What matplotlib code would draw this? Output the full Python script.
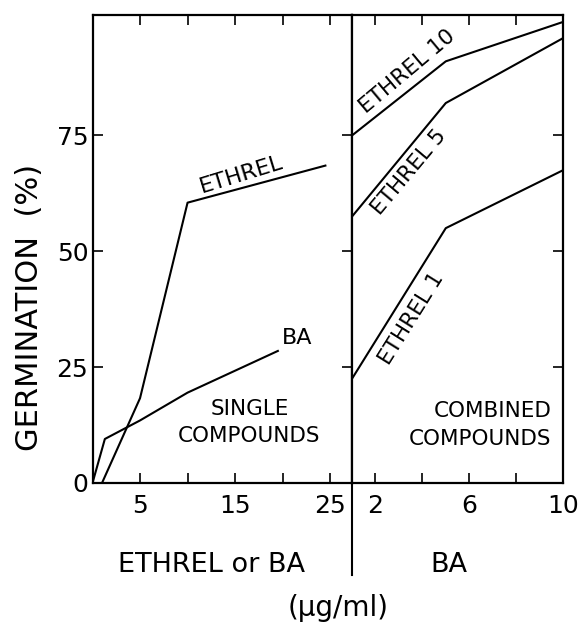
import matplotlib.pyplot as plt
from matplotlib.lines import Line2D

plt.rcParams['font.family'] = ['DejaVu Sans']

# single compounds (ug/ml)
ethrel_x = [1, 5, 10, 24.5]
ethrel_y = [0, 18.3, 60.5, 68.5]
ba_x = [0, 1.3, 5, 10, 19.5]
ba_y = [0, 9.5, 13.5, 19.5, 28.5]

# combined compounds: BA (ug/ml) with ethrel 1, 5, 10
ba_comb_x = [1, 5, 10]
ethrel1_y = [22.5, 55, 67.5]
ethrel5_y = [57.5, 82, 96]
ethrel10_y = [75, 91, 99.5]

left_ticks = [5, 10, 15, 20, 25]
left_labels = ['5', '', '15', '', '25']
right_ticks = [2, 4, 6, 8, 10]
right_labels = ['2', '', '6', '', '10']
y_ticks = [0, 25, 50, 75]

W, H = 579, 625
fig = plt.figure(figsize=(W / 100, H / 100), dpi=100)

# panel boxes in pixels -> figure fractions
x0, xm, x1 = 92.5, 352, 563
ytop, ybot = 15, 483
ax1 = fig.add_axes([x0 / W, 1 - ybot / H, (xm - x0) / W, (ybot - ytop) / H])
ax2 = fig.add_axes([xm / W, 1 - ybot / H, (x1 - xm) / W, (ybot - ytop) / H])

lw = 1.5
ax1.plot(ethrel_x, ethrel_y, color='black', lw=lw)
ax1.plot(ba_x, ba_y, color='black', lw=lw)
ax2.plot(ba_comb_x, ethrel1_y, color='black', lw=lw)
ax2.plot(ba_comb_x, ethrel5_y, color='black', lw=lw)
ax2.plot(ba_comb_x, ethrel10_y, color='black', lw=lw)

ax1.set_xlim(0, 27.3)
ax2.set_xlim(1, 10)
for ax in (ax1, ax2):
    ax.set_ylim(0, 101)
    for s in ax.spines.values():
        s.set_linewidth(1.6)
    ax.set_yticks(y_ticks)
    ax.tick_params(direction='in', length=7, width=1.2, labelsize=18,
                   top=True, pad=8)

ax1.set_xticks(left_ticks)
ax1.set_xticklabels(left_labels)
ax1.set_yticklabels([str(v) for v in y_ticks])
ax1.tick_params(axis='y', right=True, pad=3)

ax2.set_xticks(right_ticks)
ax2.set_xticklabels(right_labels)
ax2.tick_params(axis='y', left=False, right=True, labelleft=False)

# curve labels
ax1.text(15.7, 66.5, 'ETHREL', rotation=17, fontsize=16, ha='center', va='center')
ax1.text(21.5, 31.2, 'BA', fontsize=16, ha='center', va='center')
ax1.text(16.5, 13, 'SINGLE\nCOMPOUNDS', fontsize=15.5, ha='center', va='center',
         linespacing=1.45)
ax2.text(9.5, 12.5, 'COMBINED\nCOMPOUNDS', fontsize=15.5, ha='right', va='center',
         linespacing=1.45, multialignment='right')
ax2.text(3.34, 88.8, 'ETHREL 10', rotation=40, fontsize=15.5, ha='center', va='center')
ax2.text(3.45, 67, 'ETHREL 5', rotation=50, fontsize=15.5, ha='center', va='center')
ax2.text(3.55, 35.5, 'ETHREL 1', rotation=58, fontsize=15.5, ha='center', va='center')

# axis titles
fig.text(30 / W, 1 - 307 / H, 'GERMINATION  (%)', rotation=90, fontsize=22,
         ha='center', va='center')
fig.text(212 / W, 1 - 565 / H, 'ETHREL or BA', fontsize=19.5, ha='center', va='center')
fig.text(449 / W, 1 - 565 / H, 'BA', fontsize=19.5, ha='center', va='center')
fig.text(338 / W, 1 - 608 / H, '(\u00b5g/ml)', fontsize=20, ha='center', va='center')

# divider below the panels
fig.add_artist(Line2D([xm / W, xm / W], [1 - ybot / H, 1 - 575 / H],
                      color='black', lw=1.5, transform=fig.transFigure))

plt.savefig('out.png', dpi=100)
